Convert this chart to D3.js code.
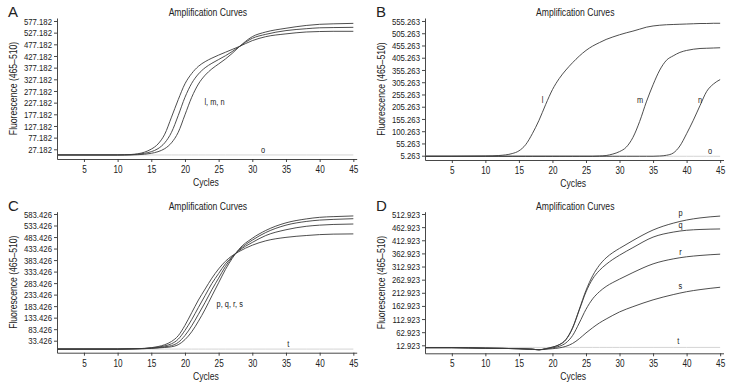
<!DOCTYPE html>
<html>
<head>
<meta charset="utf-8">
<script src="https://cdn.jsdelivr.net/npm/d3@7"></script>
<style>
  body { margin: 0; background: #fff; }
  svg text { font-family: "Liberation Sans", Arial, Helvetica, sans-serif; fill: #222; }
</style>
</head>
<body>
<svg id="chart" width="733" height="388"></svg>
<script>
// ---- data ----
const cycA = [1, 5, 10, 11, 12, 13, 14, 15, 16, 17, 18, 19, 20, 21, 22, 23, 24, 25, 26, 27, 28, 30, 32, 35, 38, 40, 42, 45];
const aL = [3, 3, 3, 4, 5, 8, 15, 28, 50, 92, 165, 240, 308, 352, 383, 403, 418, 431, 443, 455, 467, 493, 510, 522, 530, 532, 533, 533];
const aM = [3, 3, 3, 3, 4, 6, 10, 17, 30, 55, 100, 172, 250, 310, 350, 377, 396, 412, 428, 446, 466, 503, 520, 536, 544, 548, 549, 550];
const aN = [3, 3, 3, 3, 3, 4, 6, 10, 17, 30, 55, 100, 175, 250, 307, 345, 372, 393, 414, 438, 465, 510, 530, 546, 558, 563, 565, 567];
const aO = [3, 3, 3, 3, 3, 3, 3, 3, 3, 3, 3, 3, 3, 3, 3, 3, 3, 3, 3, 3, 3, 3, 3, 3, 3, 3, 3, 3];

const cycB = [1, 5, 10, 12, 14, 15, 16, 17, 18, 19, 20, 21, 22, 23, 24, 25, 26, 27, 28, 29, 30, 31, 32, 33, 34, 35, 36, 37, 38, 39, 40, 41, 42, 43, 44, 45];
const bL = [3, 3, 4, 6, 14, 25, 50, 95, 150, 215, 275, 320, 355, 385, 412, 435, 453, 467, 480, 490, 499, 507, 514, 522, 530, 535, 538, 540, 541, 542, 543, 544, 545, 545, 546, 546];
const bM = [3, 3, 3, 3, 3, 3, 3, 3, 3, 3, 3, 3, 3, 3, 3, 3, 3, 4, 6, 12, 22, 40, 80, 145, 225, 295, 355, 395, 413, 427, 435, 440, 443, 444, 445, 446];
const bN = [3, 3, 3, 3, 3, 3, 3, 3, 3, 3, 3, 3, 3, 3, 3, 3, 3, 3, 3, 3, 3, 3, 3, 3, 3, 3, 4, 7, 16, 45, 95, 150, 210, 268, 298, 316];
const bO = [3, 3, 3, 3, 3, 3, 3, 3, 3, 3, 3, 3, 3, 3, 3, 3, 3, 3, 3, 3, 3, 3, 3, 3, 3, 3, 3, 3, 3, 3, 3, 3, 3, 3, 3, 3];

const cycC = [1, 5, 10, 12, 14, 15, 16, 17, 18, 19, 20, 21, 22, 23, 24, 25, 26, 27, 28, 30, 32, 35, 38, 40, 42, 45];
const cP = [-3, -3, -3, -2, 0, 3, 8, 16, 30, 55, 100, 155, 210, 258, 305, 345, 378, 402, 420, 448, 467, 482, 490, 494, 496, 497];
const cQ = [-3, -3, -3, -2, 0, 2, 5, 11, 20, 40, 78, 125, 178, 230, 282, 325, 367, 398, 424, 460, 490, 515, 530, 535, 538, 540];
const cR = [-3, -3, -3, -2, -1, 1, 3, 7, 12, 26, 56, 98, 148, 200, 255, 305, 355, 395, 427, 470, 503, 535, 551, 557, 560, 563];
const cS = [-3, -3, -3, -2, -1, 0, 2, 4, 7, 16, 38, 72, 118, 170, 228, 285, 342, 390, 430, 478, 512, 545, 562, 569, 572, 575];
const cT = [-3, -3, -3, -3, -3, -3, -3, -3, -3, -3, -3, -3, -3, -3, -3, -3, -3, -3, -3, -3, -3, -3, -3, -3, -3, -3];

const cycD = [1, 5, 10, 15, 17, 18, 19, 20, 21, 22, 23, 24, 25, 26, 27, 28, 29, 30, 32, 35, 38, 40, 42, 45];
const dP = [4, 4, 2, 0, -2, -4, 0, 6, 15, 35, 80, 150, 222, 278, 318, 346, 366, 382, 412, 452, 478, 490, 498, 505];
const dQ = [4, 4, 2, 0, -2, -4, 0, 6, 15, 34, 78, 147, 216, 266, 298, 321, 340, 356, 385, 425, 444, 451, 454, 456];
const dR = [4, 4, 2, 0, -2, -4, -1, 3, 9, 22, 50, 98, 150, 190, 217, 237, 252, 265, 290, 323, 342, 350, 355, 360];
const dS = [4, 4, 2, 0, -2, -4, -2, 0, 3, 9, 20, 38, 60, 80, 98, 113, 127, 140, 160, 186, 206, 217, 225, 234];
const dT = [5, 5, 5, 5, 5, 5, 5, 5, 5, 5, 5, 5, 5, 5, 5, 5, 5, 5, 5, 5, 5, 5, 5, 5];

const xTicks = [5, 10, 15, 20, 25, 30, 35, 40, 45];
const yTicksA = d3.range(27.182, 578, 50);
const yLabelsA = ['27.182', '77.182', '127.182', '177.182', '227.182', '277.182', '327.182', '377.182', '427.182', '477.182', '527.182', '577.182'];
const yTicksB = d3.range(5.263, 556, 50);
const yLabelsB = ['5.263', '55.263', '100.263', '155.263', '205.263', '255.263', '305.263', '355.263', '405.263', '455.263', '505.263', '555.263'];
const yTicksC = d3.range(33.426, 584, 50);
const yLabelsC = ['33.426', '83.426', '133.426', '183.426', '233.426', '283.426', '333.426', '383.426', '433.426', '483.426', '533.426', '583.426'];
const yTicksD = d3.range(12.923, 513, 50);
const yLabelsD = ['12.923', '62.923', '112.923', '162.923', '212.923', '262.923', '312.923', '362.923', '412.923', '462.923', '512.923'];

// annotations: [text, cycle, value]
const notesA = [['l, m, n', 22.9, 219], ['o', 31.3, 12]];
const notesB = [['l', 18.4, 221], ['m', 32.6, 219], ['n', 41.7, 219], ['o', 43.2, 11]];
const notesC = [['p, q, r, s', 24.7, 181], ['t', 35.2, 7]];
const notesD = [['p', 38.8, 505], ['q', 38.8, 458], ['r', 38.9, 355], ['s', 38.8, 227], ['t', 38.6, 17]];

const panels = [
  { letter: 'A', box: [57, 356.7, 18, 159], yDomain: [-14.4, 590], yTicks: yTicksA, yLabels: yLabelsA,
    cycles: cycA, faint: [aO], lines: [aL, aM, aN], notes: notesA },
  { letter: 'B', box: [425, 723.5, 18, 160], yDomain: [-12.3, 567.5], yTicks: yTicksB, yLabels: yLabelsB,
    cycles: cycB, faint: [bO], lines: [bL, bM, bN], notes: notesB },
  { letter: 'C', box: [57, 356.7, 211.7, 352.7], yDomain: [-18.7, 593.4], yTicks: yTicksC, yLabels: yLabelsC,
    cycles: cycC, faint: [cT], lines: [cP, cQ, cR, cS], notes: notesC },
  { letter: 'D', box: [425, 723.5, 211.7, 353.3], yDomain: [-17.5, 521.7], yTicks: yTicksD, yLabels: yLabelsD,
    cycles: cycD, faint: [dT], lines: [dP, dQ, dR, dS], notes: notesD }
];

const svg = d3.select('#chart');

// the original uses a condensed face; squeeze plain Arial horizontally
const SQUEEZE = 0.82;
function narrow(sel) {
  sel.each(function() {
    const t = d3.select(this);
    const x = +t.attr('x') || 0;
    const y = +t.attr('y') || 0;
    t.attr('transform', `translate(${x},${y}) scale(${SQUEEZE},1) translate(${-x},${-y})`);
  });
}

panels.forEach(p => {
  const [left, right, top, bottom] = p.box;
  const x = d3.scaleLinear().domain([1, 45.5]).range([left, right]);
  const y = d3.scaleLinear().domain(p.yDomain).range([bottom, top]);
  const g = svg.append('g');

  g.append('g')
    .attr('transform', `translate(0,${bottom})`)
    .call(d3.axisBottom(x).tickValues(xTicks).tickSize(3).tickPadding(4).tickSizeOuter(0))
    .call(a => a.selectAll('text').style('font-size', '10px').call(narrow));

  g.append('g')
    .attr('transform', `translate(${left},0)`)
    .call(d3.axisLeft(y).tickValues(p.yTicks).tickFormat((d, i) => p.yLabels[i])
      .tickSize(3).tickPadding(2).tickSizeOuter(0))
    .call(a => a.selectAll('text').style('font-size', '9.5px').call(narrow));

  g.selectAll('.domain, .tick line').attr('stroke', '#333').attr('stroke-width', 0.9);

  const line = d3.line()
    .x((d, i) => x(p.cycles[i]))
    .y(d => y(d))
    .curve(d3.curveMonotoneX);

  g.selectAll('.faint').data(p.faint).join('path')
    .attr('class', 'faint')
    .attr('d', line)
    .attr('fill', 'none')
    .attr('stroke', '#d4d4d4')
    .attr('stroke-width', 1);

  g.selectAll('.curve').data(p.lines).join('path')
    .attr('class', 'curve')
    .attr('d', line)
    .attr('fill', 'none')
    .attr('stroke', '#3a3a3a')
    .attr('stroke-width', 0.9);

  g.selectAll('.note').data(p.notes).join('text')
    .attr('class', 'note')
    .attr('x', d => x(d[1]))
    .attr('y', d => y(d[2]))
    .style('font-size', '9px')
    .text(d => d[0])
    .call(narrow);

  const mid = (left + right) / 2;
  g.append('text')
    .attr('x', mid + 1)
    .attr('y', top - 2)
    .attr('text-anchor', 'middle')
    .style('font-size', '10.5px')
    .text('Amplification Curves')
    .call(narrow);

  g.append('text')
    .attr('x', mid - 1)
    .attr('y', bottom + 27)
    .attr('text-anchor', 'middle')
    .style('font-size', '10.5px')
    .text('Cycles')
    .call(narrow);

  g.append('text')
    .attr('transform', `translate(${left - 40},${(top + bottom) / 2}) rotate(-90) scale(${SQUEEZE},1)`)
    .attr('text-anchor', 'middle')
    .style('font-size', '10.5px')
    .text('Fluorescence (465–510)');

  g.append('text')
    .attr('x', left - 49)
    .attr('y', top - 1)
    .style('font-size', '15px')
    .text(p.letter);
});
</script>
</body>
</html>
